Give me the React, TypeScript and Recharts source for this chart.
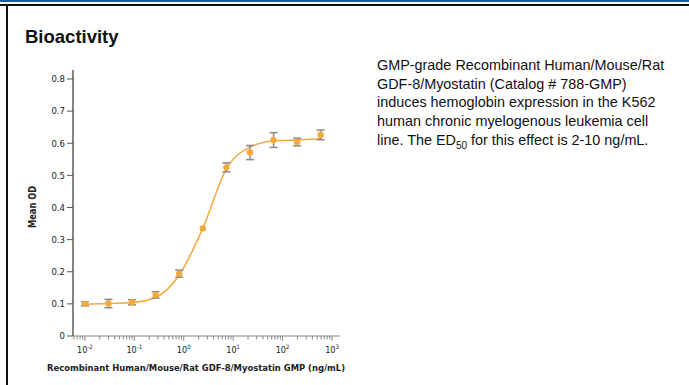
import React from 'react';
import { ComposedChart, Line, Scatter, XAxis, YAxis, ErrorBar, Label } from 'recharts';

// 3-fold dilution series (ng/mL)
const doses = [0.01, 0.03, 0.09, 0.27, 0.81, 2.43, 7.29, 21.87, 65.61, 196.83, 590.49];
const meanOD = [0.100, 0.101, 0.105, 0.128, 0.194, 0.335, 0.525, 0.571, 0.610, 0.604, 0.626];
const sdOD = [0.006, 0.013, 0.008, 0.010, 0.011, null, 0.014, 0.022, 0.023, 0.012, 0.015];
// fitted curve at the same doses
const fitOD = [0.099, 0.101, 0.104, 0.120, 0.190, 0.335, 0.520, 0.588, 0.607, 0.610, 0.614];

const majorTicks = [0.01, 0.1, 1, 10, 100, 1000];
const majorLabels = ['-2', '-1', '0', '1', '2', '3'];
const yTicks = [0, 0.1, 0.2, 0.3, 0.4, 0.5, 0.6, 0.7, 0.8];

const ORANGE = '#f3a93c';
const GREY = '#8a8a8a';

const points = doses.map((d, i) => ({ dose: d, od: meanOD[i], err: sdOD[i] }));
const fit = doses.map((d, i) => ({ dose: d, od: fitOD[i] }));

const xTicks: number[] = [];
[0.001, 0.01, 0.1, 1, 10, 100, 1000].forEach((m) => {
  for (let k = 1; k < 10; k++) {
    const v = +(m * k).toPrecision(3);
    if (v >= 0.006 && v <= 1000) xTicks.push(v);
  }
});

const condensed = '"DejaVu Sans Condensed", "DejaVu Sans", sans-serif';

function XTick(props: any) {
  const { x, payload } = props;
  const y = 336;
  const idx = majorTicks.findIndex((t) => Math.abs(t - payload.value) < 1e-9);
  const major = idx >= 0;
  return (
    <g>
      <line x1={x} x2={x} y1={y} y2={y + (major ? 5 : 3.5)} stroke={GREY} strokeWidth={1} />
      {major && (
        <text x={x} y={y + 17} textAnchor="middle" fontFamily={condensed} fontSize={9} fill="#222">
          10
          <tspan dy={-4} fontSize={6}>{majorLabels[idx]}</tspan>
        </text>
      )}
    </g>
  );
}

export default function App() {
  return (
    <div style={{ position: 'absolute', left: 0, top: 0, width: 689, height: 385, background: '#fff', overflow: 'hidden', fontFamily: '"Liberation Sans", Arial, sans-serif' }}>
      <div style={{ position: 'absolute', left: 0, top: 0, width: 689, height: 2, background: '#1d5c9c' }} />
      <div style={{ position: 'absolute', left: 0, top: 4, width: 689, height: 2, background: '#111' }} />
      <div style={{ position: 'absolute', left: 6, top: 4, width: 2, height: 381, background: '#111' }} />
      <div style={{ position: 'absolute', left: 25, top: 27, fontSize: 18.5, lineHeight: '20px', fontWeight: 'bold', color: '#111', whiteSpace: 'nowrap' }}>
        Bioactivity
      </div>
      <div style={{ position: 'absolute', left: 377, top: 56, fontSize: 14.4, lineHeight: '18.7px', color: '#111', whiteSpace: 'nowrap' }}>
        GMP-grade Recombinant Human/Mouse/Rat<br />
        GDF-8/Myostatin (Catalog # 788-GMP)<br />
        induces hemoglobin expression in the K562<br />
        human chronic myelogenous leukemia cell<br />
        line. The ED<span style={{ fontSize: 10, position: 'relative', top: 4 }}>50</span> for this effect is 2-10 ng/mL.
      </div>
      <div style={{ position: 'absolute', left: 0, top: 0 }}>
        <ComposedChart width={370} height={385} margin={{ top: 70, right: 30, left: 0, bottom: 0 }}>
          <XAxis
            dataKey="dose"
            type="number"
            scale="log"
            domain={[0.00575, 1450]}
            allowDataOverflow
            ticks={xTicks}
            interval={0}
            tickLine={false}
            tickSize={0}
            tick={<XTick />}
            axisLine={{ stroke: GREY, strokeWidth: 1.2 }}
            height={49}
          >
            <Label
              content={() => (
                <text x={196} y={371} textAnchor="middle" fontFamily={condensed} fontWeight="bold" fontSize={9.5} fill="#222" textLength={298} lengthAdjust="spacingAndGlyphs">
                  Recombinant Human/Mouse/Rat GDF-8/Myostatin GMP (ng/mL)
                </text>
              )}
            />
          </XAxis>
          <YAxis
            dataKey="od"
            type="number"
            domain={[0, 0.828]}
            ticks={yTicks}
            interval={0}
            width={73}
            tickSize={6}
            tickLine={{ stroke: '#555' }}
            axisLine={{ stroke: '#333', strokeWidth: 1.2 }}
            tick={{ fontFamily: condensed, fontSize: 9.5, fill: '#222' }}
            tickFormatter={(v: number) => (v === 0 ? '0' : v.toFixed(1))}
          >
            <Label
              content={() => (
                <text x={0} y={0} transform="translate(36,207) rotate(-90)" textAnchor="middle" fontFamily={condensed} fontWeight="bold" fontSize={10.5} fill="#222" textLength={42} lengthAdjust="spacingAndGlyphs">
                  Mean OD
                </text>
              )}
            />
          </YAxis>
          <Line data={fit} dataKey="od" type="monotone" stroke={ORANGE} strokeWidth={1.5} dot={false} isAnimationActive={false} />
          <Scatter
            data={points}
            dataKey="od"
            fill={ORANGE}
            isAnimationActive={false}
            shape={(p: any) => <circle cx={p.cx} cy={p.cy} r={3.2} fill={ORANGE} />}
          >
            <ErrorBar dataKey="err" direction="y" width={4} stroke={GREY} strokeWidth={1.5} />
          </Scatter>
        </ComposedChart>
      </div>
    </div>
  );
}
